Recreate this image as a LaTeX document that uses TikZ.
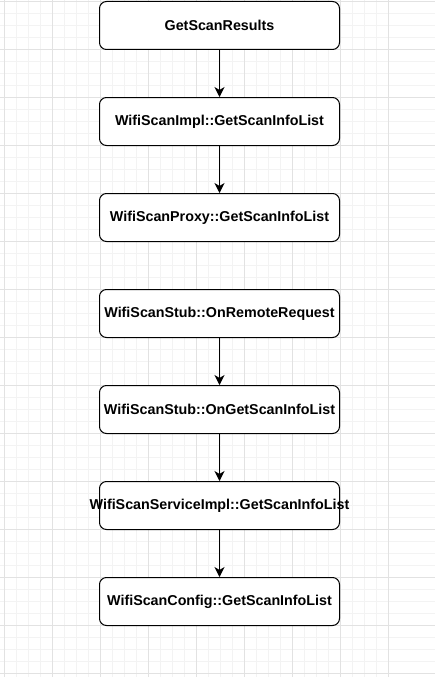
\documentclass[tikz,border=0pt]{standalone}
\usepackage{fontspec}
\setmainfont{Liberation Sans}
\usetikzlibrary{arrows.meta}
\definecolor{gridmajor}{HTML}{E2E2E2}
\definecolor{gridminor}{HTML}{F3F3F3}
\newcommand{\boxtext}[1]{\makebox[0pt][c]{#1}}
\tikzset{
  box/.style={draw=black, line width=1pt, rounded corners=7pt, minimum width=240pt, minimum height=48pt, inner sep=0pt, fill=white, font=\fontsize{14.3pt}{16pt}\selectfont\bfseries, anchor=north west},
  flow/.style={draw=black, line width=1.2pt, -{Stealth[length=10pt,width=10pt,inset=3pt]}}
}
\begin{document}
\begin{tikzpicture}[x=1pt,y=-1pt]
\useasboundingbox (0,0) rectangle (435,677);
% grid
\foreach \i in {0,...,36} {
  \draw[gridminor, line width=0.6pt] ({4+12*\i-48},0) -- ({4+12*\i-48},677);
}
\foreach \i in {0,...,57} {
  \draw[gridminor, line width=0.6pt] (0,{1+12*\i}) -- (435,{1+12*\i});
}
\foreach \i in {0,...,9} {
  \draw[gridmajor, line width=0.8pt] ({4+48*\i},0) -- ({4+48*\i},677);
}
\foreach \i in {0,...,14} {
  \draw[gridmajor, line width=0.8pt] (0,{1+48*\i}) -- (435,{1+48*\i});
}
% boxes
\node[box] (n1) at (99,1) {\boxtext{GetScanResults}};
\node[box] (n2) at (99,97) {\boxtext{WifiScanImpl::GetScanInfoList}};
\node[box] (n3) at (99,193) {\boxtext{WifiScanProxy::GetScanInfoList}};
\node[box] (n4) at (99,289) {\boxtext{WifiScanStub::OnRemoteRequest}};
\node[box] (n5) at (99,385) {\boxtext{WifiScanStub::OnGetScanInfoList}};
\node[box] (n6) at (99,481) {\boxtext{WifiScanServiceImpl::GetScanInfoList}};
\node[box] (n7) at (99,577) {\boxtext{WifiScanConfig::GetScanInfoList}};
% arrows
\draw[flow] (n1.south) -- (n2.north);
\draw[flow] (n2.south) -- (n3.north);
\draw[flow] (n4.south) -- (n5.north);
\draw[flow] (n5.south) -- (n6.north);
\draw[flow] (n6.south) -- (n7.north);
\end{tikzpicture}
\end{document}
